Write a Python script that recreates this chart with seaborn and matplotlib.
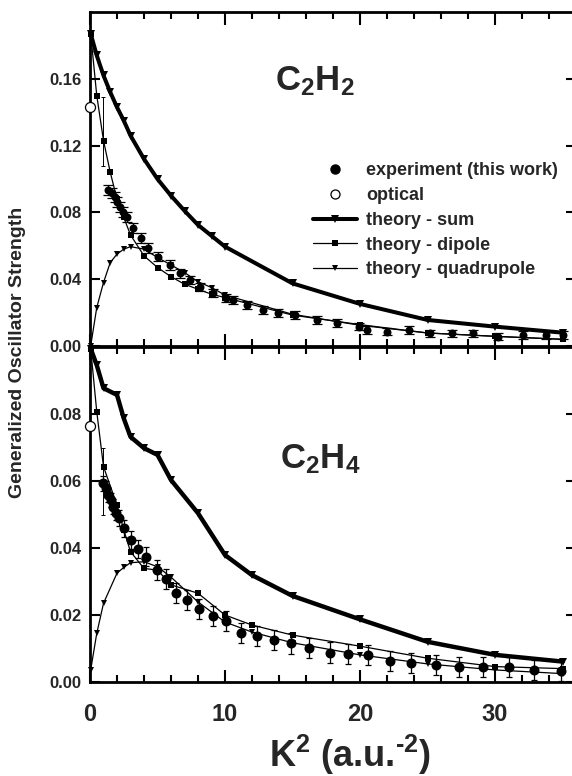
import matplotlib
matplotlib.use("Agg")
import matplotlib.pyplot as plt
from matplotlib.lines import Line2D
from matplotlib.ticker import MultipleLocator, FormatStrFormatter, NullLocator
import seaborn as sns

# ---------------- C2H2 ----------------
c2h2_theory_k2 = [0.05, 0.5, 1, 1.5, 2, 2.5, 3, 4, 5, 6, 7, 8, 9, 10, 15, 20, 25, 30, 35]
c2h2_sum = [0.187, 0.174, 0.162, 0.152, 0.143, 0.135, 0.126, 0.112, 0.100, 0.090, 0.081,
            0.0725, 0.066, 0.0595, 0.0375, 0.0252, 0.0156, 0.0116, 0.0080]
c2h2_dipole = [0.187, 0.150, 0.123, 0.104, 0.088, 0.077, 0.0665, 0.054, 0.047, 0.0415, 0.037,
               0.034, 0.031, 0.029, 0.0185, 0.0128, 0.0078, 0.0058, 0.0040]
c2h2_quad = [0.0, 0.023, 0.038, 0.050, 0.055, 0.058, 0.0595, 0.058, 0.053, 0.0485, 0.044,
             0.0385, 0.035, 0.0305, 0.019, 0.0124, 0.0078, 0.0058, 0.0040]
c2h2_exp_k2 = [1.36, 1.60, 1.85, 2.02, 2.22, 2.42, 2.72, 3.21, 3.75, 4.32, 5.06, 5.93, 6.67,
               7.40, 8.15, 9.10, 10.1, 10.6, 11.6, 12.8, 13.9, 15.2, 16.8, 18.3, 19.9, 20.5,
               22.0, 23.6, 25.2, 26.8, 28.4, 30.2, 32.1, 33.8, 35.0]
c2h2_exp_gos = [0.0934, 0.0918, 0.0894, 0.0864, 0.0834, 0.0804, 0.0774, 0.0705, 0.0645, 0.0585,
                0.0535, 0.0485, 0.0435, 0.0395, 0.0355, 0.0316, 0.0290, 0.0276, 0.0246, 0.0216,
                0.0196, 0.0186, 0.0156, 0.0136, 0.0116, 0.0096, 0.0086, 0.0096, 0.0076, 0.0076,
                0.0076, 0.0056, 0.0066, 0.0066, 0.0066]
c2h2_exp_err = [0.003, 0.003, 0.003, 0.003, 0.003, 0.003, 0.003, 0.003, 0.003, 0.003,
                0.0028, 0.0028, 0.0026, 0.0026, 0.0025, 0.0025, 0.0024, 0.0024, 0.0024, 0.0024,
                0.0023, 0.0023, 0.0023, 0.0023, 0.0023, 0.0023, 0.0023, 0.0023, 0.0022, 0.0022,
                0.0022, 0.0022, 0.0022, 0.0022, 0.0022]
c2h2_optical = 0.143
c2h2_low_k2, c2h2_low_gos, c2h2_low_err = 0.94, 0.1285, 0.0205

# ---------------- C2H4 ----------------
c2h4_theory_k2 = [0.05, 0.5, 1, 2, 2.5, 3, 4, 5, 6, 8, 10, 12, 15, 20, 25, 30, 35]
c2h4_sum = [0.0995, 0.0946, 0.0877, 0.0857, 0.0787, 0.0732, 0.0698, 0.0678, 0.0603, 0.0504,
            0.0379, 0.0319, 0.0257, 0.0187, 0.0120, 0.0081, 0.0061]
c2h4_dipole = [0.0995, 0.0807, 0.0643, 0.0528, 0.0454, 0.0389, 0.0339, 0.0334, 0.0290, 0.0265,
               0.0200, 0.0170, 0.0140, 0.0107, 0.0071, 0.0046, 0.0040]
c2h4_quad = [0.0036, 0.0145, 0.0235, 0.0325, 0.0342, 0.0356, 0.0359, 0.0344, 0.0313, 0.0239,
             0.0179, 0.0149, 0.0117, 0.0081, 0.0054, 0.0036, 0.0025]
c2h4_exp_k2 = [0.99, 1.19, 1.36, 1.53, 1.73, 1.93, 2.17, 2.52, 3.01, 3.58, 4.15, 4.94, 5.63,
               6.37, 7.16, 8.10, 9.14, 10.1, 11.2, 12.4, 13.6, 14.9, 16.2, 17.8, 19.1, 20.6,
               22.2, 23.8, 25.6, 27.3, 29.1, 31.0, 32.9, 34.9]
c2h4_exp_gos = [0.0593, 0.0578, 0.0558, 0.0543, 0.0523, 0.0505, 0.0489, 0.0459, 0.0424, 0.0396,
                0.0374, 0.0334, 0.0307, 0.0267, 0.0245, 0.0217, 0.0197, 0.0182, 0.0147, 0.0137,
                0.0125, 0.0115, 0.0101, 0.0088, 0.0083, 0.0081, 0.0064, 0.0058, 0.0051, 0.0046,
                0.0046, 0.0044, 0.0036, 0.0034]
c2h4_exp_err = [0.0022, 0.0022, 0.0022, 0.0022, 0.0022, 0.0022, 0.0024, 0.0025, 0.0026, 0.0027,
                0.0028, 0.003, 0.003, 0.003, 0.003, 0.003, 0.003, 0.003, 0.003, 0.003,
                0.003, 0.003, 0.003, 0.003, 0.003, 0.003, 0.003, 0.003, 0.003, 0.003,
                0.003, 0.003, 0.003, 0.003]
c2h4_optical = 0.0764
c2h4_low_k2, c2h4_low_gos, c2h4_low_err = 0.94, 0.060, 0.010

yticks_c2h2 = [0.00, 0.04, 0.08, 0.12, 0.16]
yticks_c2h4 = [0.00, 0.02, 0.04, 0.06, 0.08]
xticks = [0, 10, 20, 30]

sns.set_theme(style="ticks")
plt.rcParams["font.family"] = ["Liberation Sans", "DejaVu Sans"]
plt.rcParams["font.weight"] = "bold"
plt.rcParams["mathtext.fontset"] = "custom"
plt.rcParams["mathtext.rm"] = "Liberation Sans:bold"
plt.rcParams["mathtext.it"] = "Liberation Sans:bold"
plt.rcParams["mathtext.bf"] = "Liberation Sans:bold"
plt.rcParams["mathtext.sf"] = "Liberation Sans:bold"

fig = plt.figure(figsize=(5.72, 7.76), dpi=100)
fig.patch.set_facecolor("white")
W, H = 572.0, 776.0
left, right = 90 / W, 576 / W
ax_top = fig.add_axes([left, 1 - 346 / H, right - left, (346 - 12) / H])
ax_bot = fig.add_axes([left, 1 - 682 / H, right - left, (682 - 347) / H])


def draw_panel(ax, k2, tsum, tdip, tquad, ek2, egos, eerr, opt, low, ymax, yt,
               circ_s, cap, sum_lw):
    sns.lineplot(x=k2, y=tquad, ax=ax, color="black", linewidth=0.9, marker="v",
                 markersize=4.8, markeredgewidth=0, estimator=None, sort=False,
                 clip_on=False, zorder=3)
    sns.lineplot(x=k2, y=tdip, ax=ax, color="black", linewidth=0.9, marker="s",
                 markersize=4.2, markeredgewidth=0, estimator=None, sort=False,
                 clip_on=False, zorder=3)
    ax.errorbar(ek2, egos, yerr=eerr, fmt="none", ecolor="black", elinewidth=0.9,
                capsize=cap, capthick=0.9, zorder=4)
    lk, lg, le = low
    ax.errorbar([lk], [lg], yerr=[le], fmt="none", ecolor="black", elinewidth=0.7,
                capsize=1.5, capthick=0.7, zorder=4)
    sns.scatterplot(x=ek2, y=egos, ax=ax, color="black", s=circ_s, edgecolor="black",
                    linewidth=0, zorder=5)
    sns.lineplot(x=k2, y=tsum, ax=ax, color="black", linewidth=sum_lw, marker="v",
                 markersize=6.2, markeredgewidth=0, estimator=None, sort=False,
                 clip_on=False, zorder=6)
    sns.scatterplot(x=[0], y=[opt], ax=ax, color="white", s=52, edgecolor="black",
                    linewidth=0.9, zorder=7, clip_on=False)

    ax.set_xlim(0, 36)
    ax.set_ylim(0, ymax)
    ax.set_yticks(yt)
    ax.yaxis.set_major_formatter(FormatStrFormatter("%.2f"))
    ax.yaxis.set_minor_locator(NullLocator())
    ax.xaxis.set_major_locator(MultipleLocator(10))
    ax.xaxis.set_minor_locator(MultipleLocator(2))
    ax.tick_params(which="both", direction="in", top=True, right=True, width=1.5,
                   color="black")
    ax.tick_params(axis="x", which="major", length=9, pad=15, labelsize=17)
    ax.tick_params(axis="x", which="minor", length=5)
    ax.tick_params(axis="y", which="major", length=7, pad=6, labelsize=12)
    for sp in ax.spines.values():
        sp.set_linewidth(2)
        sp.set_color("black")
    ax.set_xlabel("")
    ax.set_ylabel("")
    ax.set_facecolor("white")


draw_panel(ax_top, c2h2_theory_k2, c2h2_sum, c2h2_dipole, c2h2_quad,
           c2h2_exp_k2, c2h2_exp_gos, c2h2_exp_err, c2h2_optical,
           (c2h2_low_k2, c2h2_low_gos, c2h2_low_err), 0.2, yticks_c2h2,
           33, 3.5, 2.9)
draw_panel(ax_bot, c2h4_theory_k2, c2h4_sum, c2h4_dipole, c2h4_quad,
           c2h4_exp_k2, c2h4_exp_gos, c2h4_exp_err, c2h4_optical,
           (c2h4_low_k2, c2h4_low_gos, c2h4_low_err), 0.1, yticks_c2h4,
           52, 2.2, 3.2)

ax_top.tick_params(axis="x", labelbottom=False)
ax_bot.set_xticks(xticks)
ax_bot.set_xticklabels([str(t) for t in xticks])

ax_top.text(13.7, 0.1533, r"$\mathrm{C_2H_2}$", fontsize=25, ha="left", va="baseline")
ax_bot.text(14.1, 0.0639, r"$\mathrm{C_2H_4}$", fontsize=25, ha="left", va="baseline")

handles = [
    Line2D([], [], linestyle="none", marker="o", color="black", markersize=6.5),
    Line2D([], [], linestyle="none", marker="o", markerfacecolor="white",
           markeredgecolor="black", markersize=6.5, markeredgewidth=0.9),
    Line2D([], [], color="black", linewidth=2.9, marker="v", markersize=6.2,
           markeredgewidth=0),
    Line2D([], [], color="black", linewidth=0.9, marker="s", markersize=4.2,
           markeredgewidth=0),
    Line2D([], [], color="black", linewidth=0.9, marker="v", markersize=4.8,
           markeredgewidth=0),
]
labels = ["experiment (this work)", "optical", "theory - sum", "theory - dipole",
          "theory - quadrupole"]
ax_top.legend(handles, labels, loc="upper left", bbox_to_anchor=((313 - 90) / 486, 0.55),
              frameon=False, fontsize=13, handlelength=2.45, handletextpad=0.5,
              labelspacing=0.43, borderpad=0, borderaxespad=0)

fig.text(18 / W, 1 - 352 / H, "Generalized Oscillator Strength", rotation=90,
         ha="center", va="center", fontsize=14, fontweight="bold")
fig.text(350 / W, 9 / H, r"K$^{\mathrm{2}}$ (a.u.$^{\text{-2}}$)", ha="center",
         va="baseline", fontsize=26, fontweight="bold")

fig.savefig("out.png", dpi=100, facecolor="white")
